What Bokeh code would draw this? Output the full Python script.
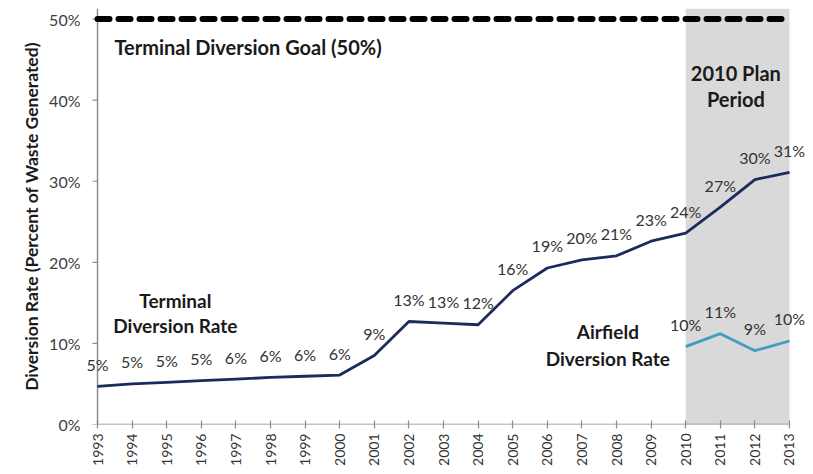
import math
from bokeh.plotting import figure
from bokeh.models import Range1d, FixedTicker, BoxAnnotation, Label
from bokeh.embed import file_html
from bokeh.resources import INLINE

years = list(range(1993, 2014))
terminal = [4.7, 5.0, 5.2, 5.4, 5.6, 5.8, 5.95, 6.1, 8.5, 12.7, 12.5, 12.3, 16.5, 19.3, 20.3, 20.8, 22.6, 23.6, 26.8, 30.2, 31.1]
terminal_labels = ["5%", "5%", "5%", "5%", "6%", "6%", "6%", "6%", "9%", "13%", "13%", "12%", "16%", "19%", "20%", "21%", "23%", "24%", "27%", "30%", "31%"]
air_years = [2010, 2011, 2012, 2013]
airfield = [9.6, 11.2, 9.1, 10.3]
airfield_labels = ["10%", "11%", "9%", "10%"]
goal_years = [1993, 2013]
goal = [50, 50]
plan_start, plan_end = 2010, 2013
y_ticks = [0, 10, 20, 30, 40, 50]
y_tick_labels = ["0%", "10%", "20%", "30%", "40%", "50%"]

FONT = "Lato"
AXIS_COLOR = "#8c8c8c"

# frame is a bit wider than the year span so that end labels are not clipped
x0, x1 = years[0], years[-1]
y_top = 51.3
pad_l, pad_r = 0.434, 0.607

p = figure(width=812, height=472, output_backend="svg", toolbar_location=None,
           x_range=Range1d(x0 - pad_l, x1 + pad_r), y_range=Range1d(0, y_top),
           min_border_left=82, min_border_right=2, min_border_top=8, min_border_bottom=48)
p.outline_line_color = None
p.grid.visible = False
p.background_fill_color = "white"

p.add_layout(BoxAnnotation(left=plan_start, right=plan_end, bottom=0, top=y_top,
                           fill_color="#d9d9d9", fill_alpha=1.0, line_color=None, level="underlay"))

# axis lines spanning the year range, y ticks pointing left
p.segment(x0=[x0, x0], y0=[0, 0], x1=[x1, x0], y1=[0, y_top], line_color=AXIS_COLOR, line_width=1.5)
p.ray(x=[x0] * len(y_ticks), y=y_ticks, length=5, length_units="screen", angle=math.pi,
      line_color=AXIS_COLOR, line_width=1.2)

p.line(goal_years, goal, line_color="black", line_width=6, line_dash="12 9", line_cap="round")
p.line(years, terminal, line_color="#1c2a5e", line_width=2.8)
p.line(air_years, airfield, line_color="#3f9ec2", line_width=2.8)

for xs, ys, ts in ((years, terminal, terminal_labels), (air_years, airfield, airfield_labels)):
    for x, y, t in zip(xs, ys, ts):
        p.add_layout(Label(x=x, y=y, text=t, y_offset=22,
                           text_align="center", text_baseline="middle",
                           text_font=FONT, text_font_size="16px", text_color="#333333"))

def txt(x, y, s, size="19px"):
    p.add_layout(Label(x=x, y=y, text=s,
                       text_font=FONT, text_font_size=size, text_font_style="bold",
                       text_color="#1a1a1a", text_align="center", text_baseline="middle"))

txt(1997.35, 46.55, "Terminal Diversion Goal (50%)", "20px")
txt(2011.45, 43.35, "2010 Plan", "20px")
txt(2011.45, 40.15, "Period", "20px")
txt(1995.25, 15.3, "Terminal")
txt(1995.25, 12.2, "Diversion Rate")
txt(2007.75, 11.45, "Airfield")
txt(2007.75, 8.1, "Diversion Rate")

p.xaxis.ticker = FixedTicker(ticks=years)
p.xaxis.axis_line_color = None
p.xaxis.major_label_orientation = 1.5708
p.xaxis.major_label_text_font = FONT
p.xaxis.major_label_text_font_size = "14px"
p.xaxis.major_label_text_color = "#333333"
p.xaxis.major_tick_in = 4
p.xaxis.major_tick_out = 4
p.xaxis.major_tick_line_color = AXIS_COLOR
p.xaxis.major_tick_line_width = 1.2
p.xaxis.minor_tick_line_color = None

p.yaxis.ticker = FixedTicker(ticks=y_ticks)
p.yaxis.axis_line_color = None
p.yaxis.major_tick_line_color = None
p.yaxis.major_tick_in = 0
p.yaxis.major_tick_out = 0
p.yaxis.minor_tick_line_color = None
p.yaxis.major_label_overrides = {t: l for t, l in zip(y_ticks, y_tick_labels)}
p.yaxis.major_label_text_font = FONT
p.yaxis.major_label_text_font_size = "16px"
p.yaxis.major_label_text_color = "#404040"
p.yaxis.major_label_standoff = 2
p.yaxis.axis_label = "Diversion Rate (Percent of Waste Generated)"
p.yaxis.axis_label_text_font = FONT
p.yaxis.axis_label_text_font_size = "17.5px"
p.yaxis.axis_label_text_font_style = "bold"
p.yaxis.axis_label_text_color = "#1a1a1a"
p.yaxis.axis_label_standoff = 4

open("out.html", "w").write(file_html(p, INLINE))
